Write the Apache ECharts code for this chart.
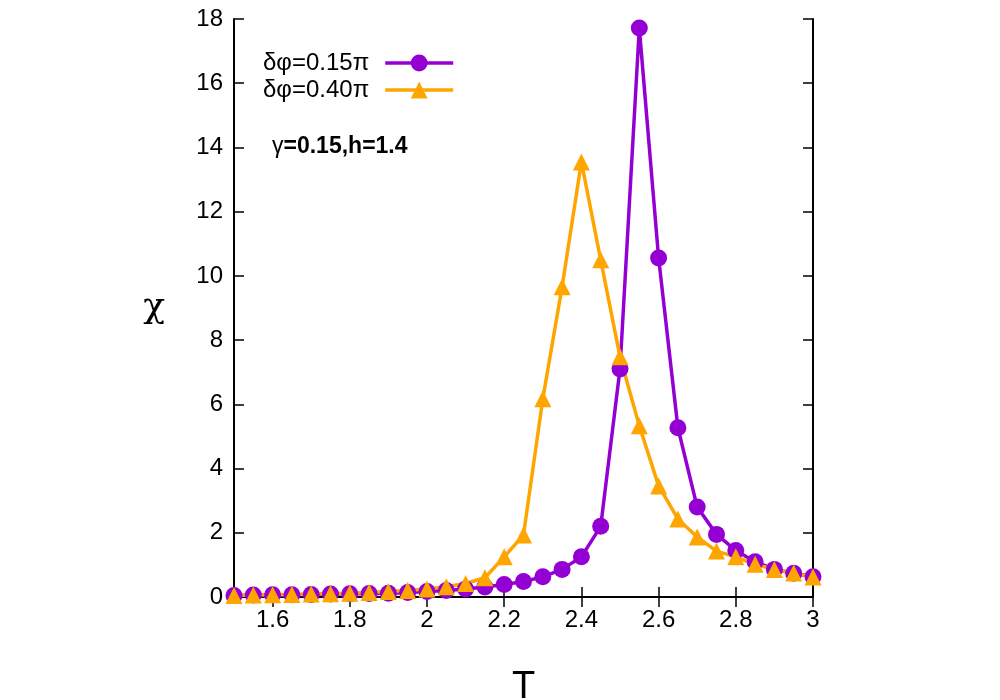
<!DOCTYPE html>
<html>
<head>
<meta charset="utf-8">
<script src="https://cdn.jsdelivr.net/npm/echarts@6/dist/echarts.min.js"></script>
<style>
  html, body { margin: 0; padding: 0; background: #fff; }
  #main { width: 1000px; height: 700px; }
</style>
</head>
<body>
<div id="main"></div>
<script>
// temperature points
var temps = [1.5, 1.55, 1.6, 1.65, 1.7, 1.75, 1.8, 1.85, 1.9, 1.95, 2.0, 2.05, 2.1, 2.15, 2.2, 2.25,
  2.3, 2.35, 2.4, 2.45, 2.5, 2.55, 2.6, 2.65, 2.7, 2.75, 2.8, 2.85, 2.9, 2.95, 3.0]
// chi for dphi = 0.15 pi
var chi015 = [0.05, 0.06, 0.07, 0.07, 0.08, 0.09, 0.10, 0.11, 0.12, 0.14, 0.17, 0.20, 0.25, 0.31, 0.39, 0.48,
  0.63, 0.86, 1.25, 2.2, 7.1, 17.72, 10.56, 5.27, 2.8, 1.95, 1.45, 1.1, 0.86, 0.74, 0.63]
// chi for dphi = 0.40 pi
var chi040 = [0.05, 0.06, 0.07, 0.08, 0.09, 0.10, 0.12, 0.14, 0.17, 0.20, 0.25, 0.32, 0.42, 0.6, 1.25, 1.93,
  6.17, 9.66, 13.55, 10.5, 7.48, 5.33, 3.46, 2.43, 1.87, 1.43, 1.25, 1.02, 0.86, 0.75, 0.62]
var xTicks = [1.6, 1.8, 2, 2.2, 2.4, 2.6, 2.8, 3]

function pairs(ys) {
  return temps.map(function (t, i) { return [t, ys[i]] })
}

var font = 'Liberation Sans, Arial, sans-serif'
var chart = echarts.init(document.getElementById('main'))

var tickStyle = { show: true, inside: true, length: 10, lineStyle: { color: '#000', width: 1.5 } }
var lineStyle = { show: true, lineStyle: { color: '#000', width: 2 } }

chart.setOption({
  animation: false,
  grid: { left: 234, right: 187, top: 19, bottom: 103, outerBoundsMode: 'none' },
  legend: {
    orient: 'vertical',
    left: 258,
    top: 46,
    align: 'right',
    itemWidth: 68,
    itemHeight: 21,
    itemGap: 3,
    lineStyle: { width: 3.5 },
    textStyle: { fontFamily: font, fontSize: 24, color: '#000', padding: [0, 11, 0, 0] },
    data: ['δφ=0.15π', 'δφ=0.40π']
  },
  xAxis: [{
    type: 'value', min: 1.5, max: 3,
    name: 'T', nameLocation: 'middle', nameGap: 72,
    nameTextStyle: { fontFamily: font, fontSize: 38, color: '#000' },
    axisLine: lineStyle,
    axisTick: Object.assign({ customValues: xTicks }, tickStyle),
    axisLabel: { customValues: xTicks, fontFamily: font, fontSize: 24, color: '#000', margin: 11 },
    splitLine: { show: false }
  }, {
    type: 'value', min: 1.5, max: 3, position: 'top',
    axisLine: lineStyle,
    axisTick: Object.assign({ customValues: xTicks }, tickStyle),
    axisLabel: { show: false },
    splitLine: { show: false }
  }],
  yAxis: [{
    type: 'value', min: 0, max: 18, interval: 2,
    name: 'χ', nameLocation: 'middle', nameGap: 69, nameRotate: 0,
    nameTextStyle: { fontFamily: 'DejaVu Serif, serif', fontSize: 36, color: '#000' },
    axisLine: lineStyle,
    axisTick: tickStyle,
    axisLabel: { fontFamily: font, fontSize: 24, color: '#000', margin: 11 },
    splitLine: { show: false }
  }, {
    type: 'value', min: 0, max: 18, interval: 2, position: 'right',
    axisLine: lineStyle,
    axisTick: tickStyle,
    axisLabel: { show: false },
    splitLine: { show: false }
  }],
  graphic: [{
    type: 'text',
    left: 272,
    top: 135,
    style: {
      text: '{n|γ}{b|=0.15,h=1.4}',
      rich: {
        n: { fontFamily: font, fontSize: 23, fill: '#000' },
        b: { fontFamily: font, fontSize: 23, fontWeight: 'bold', fill: '#000' }
      }
    }
  }],
  series: [{
    name: 'δφ=0.15π',
    type: 'line',
    data: pairs(chi015),
    symbol: 'circle',
    symbolSize: 17,
    itemStyle: { color: '#9400d3' },
    lineStyle: { color: '#9400d3', width: 3.5 }
  }, {
    name: 'δφ=0.40π',
    type: 'line',
    data: pairs(chi040),
    symbol: 'triangle',
    symbolSize: 17,
    itemStyle: { color: '#ffa500' },
    lineStyle: { color: '#ffa500', width: 3.5 }
  }]
})
</script>
</body>
</html>
